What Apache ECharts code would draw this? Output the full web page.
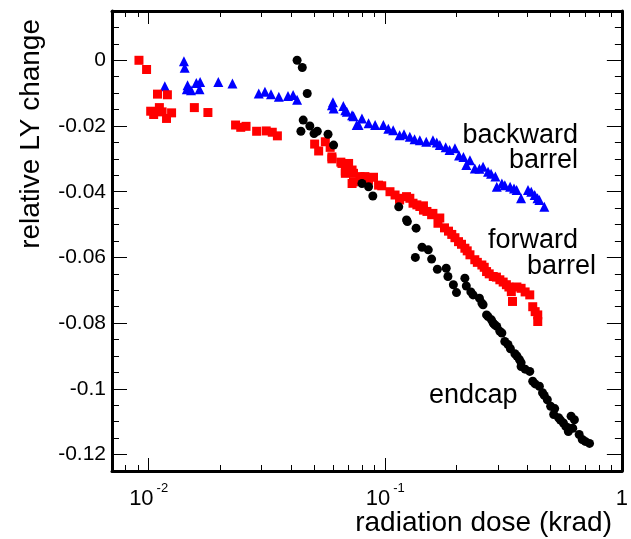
<!DOCTYPE html>
<html><head><meta charset="utf-8">
<script src="https://cdn.jsdelivr.net/npm/echarts@6/dist/echarts.min.js"></script>
<style>html,body{margin:0;padding:0;background:#fff}#c{width:631px;height:539px}</style>
</head><body><div id="c"></div>
<script>
// ---- data ----
const forwardDose = [0.0091,0.0098,0.0102,0.0105,0.0109,0.0111,0.0114,0.0119,0.0120,0.0125,0.0156,0.0178,0.0233,0.0245,0.0258,0.0286,0.0314,0.0333,0.0350,
  0.0503,0.0523,0.0558,0.0585,0.0595,0.0595,0.0649,0.0656,0.0678,0.0678,0.0700,0.0724,0.0724,0.0734,0.0734,0.0782,0.0820,0.0831,0.0850,0.0892,0.0937,0.0966,
  0.1047,0.1100,0.1150,0.1150,0.1230,0.1270,0.1310,0.1360,0.1400,0.1450,0.1450,0.1500,0.1570,0.1590,0.1670,0.1700,0.1780,0.1850,0.1910,0.1970,0.2040,0.2100,
  0.2170,0.2220,0.2280,0.2390,0.2450,0.2560,0.2620,0.2680,0.2750,0.2860,0.2950,0.3050,0.3150,0.3250,0.3330,0.3410,0.3450,0.3600,0.3750,0.3900,0.4080,0.4200,
  0.4300,0.4410,0.4410];
const forwardLY = [0,-0.0028,-0.0155,-0.0165,-0.0103,-0.0144,-0.0157,-0.0177,-0.0105,-0.0160,-0.0144,-0.0159,-0.0197,-0.0204,-0.0201,-0.0216,-0.0215,-0.0219,-0.0230,
  -0.0255,-0.0276,-0.0248,-0.0265,-0.0294,-0.0300,-0.0310,-0.0314,-0.0337,-0.0344,-0.0314,-0.0334,-0.0375,-0.0344,-0.0370,-0.0354,-0.0354,-0.0360,-0.0365,-0.0356,-0.0380,-0.0382,
  -0.0400,-0.0410,-0.0420,-0.0425,-0.0415,-0.0420,-0.0435,-0.0440,-0.0445,-0.0443,-0.0456,-0.0460,-0.0470,-0.0466,-0.0496,-0.0480,-0.0510,-0.0520,-0.0530,-0.0540,-0.0552,-0.0560,
  -0.0572,-0.0580,-0.0592,-0.0607,-0.0615,-0.0623,-0.0630,-0.0643,-0.0650,-0.0658,-0.0660,-0.0668,-0.0675,-0.0683,-0.0690,-0.0704,-0.0734,-0.0690,-0.0694,-0.0705,-0.0714,-0.0750,
  -0.0765,-0.0775,-0.0795];

const backwardDose = [0.0117,0.0141,0.0142,0.0145,0.0146,0.0151,0.0159,0.0164,0.0165,0.0197,0.0226,0.0292,0.0310,0.0329,0.0355,0.0388,0.0408,0.0424,
  0.0595,0.0601,0.0605,0.0665,0.0678,0.0688,0.0724,0.0734,0.0757,0.0771,0.0797,0.0850,0.0906,0.0982,0.1030,0.1080,0.1150,0.1200,0.1270,0.1330,0.1400,0.1490,
  0.1590,0.1650,0.1700,0.1800,0.1870,0.1970,0.2050,0.2140,0.2200,0.2280,0.2390,0.2500,0.2590,0.2720,0.2800,0.2920,0.2960,0.3110,0.3200,0.3370,0.3500,0.3590,
  0.3750,0.4010,0.4140,0.4280,0.4400,0.4480,0.4700];
const backwardLY = [-0.0079,-0.0003,-0.0023,-0.0088,-0.0076,-0.0091,-0.0069,-0.0088,-0.0066,-0.0066,-0.0071,-0.0101,-0.0096,-0.0103,-0.0111,-0.0109,-0.0106,-0.0120,
  -0.0137,-0.0128,-0.0147,-0.0139,-0.0152,-0.0157,-0.0167,-0.0170,-0.0197,-0.0197,-0.0177,-0.0192,-0.0197,-0.0197,-0.0208,-0.0213,-0.0228,-0.0225,-0.0233,-0.0240,-0.0243,-0.0248,
  -0.0243,-0.0250,-0.0258,-0.0265,-0.0273,-0.0268,-0.0290,-0.0294,-0.0319,-0.0304,-0.0329,-0.0330,-0.0324,-0.0339,-0.0345,-0.0354,-0.0385,-0.0375,-0.0380,-0.0385,-0.0390,-0.0395,
  -0.0420,-0.0395,-0.0400,-0.0410,-0.0420,-0.0425,-0.0446];

const endcapDose = [0.0424,0.0446,0.0468,0.0450,0.0440,0.0480,0.0500,0.0516,0.0573,0.0605,0.0797,0.0850,0.0886,0.1140,0.1230,0.1240,0.1350,0.1340,0.1430,0.1520,
  0.1570,0.1660,0.1810,0.1840,0.1940,0.2000,0.2170,0.2200,0.2300,0.2350,0.2500,0.2560,0.2590,0.2680,0.2720,0.2810,0.2860,0.2900,0.2960,0.3050,0.3110,0.3200,0.3300,
  0.3380,0.3530,0.3600,0.3690,0.3750,0.3750,0.3900,0.4080,0.4200,0.4300,0.4480,0.4620,0.4700,0.4840,0.5000,0.5150,0.5200,0.5400,0.5500,0.5660,0.5800,0.5940,0.5940,
  0.6100,0.6200,0.6300,0.6600,0.6800,0.7000,0.7300];
const endcapLY = [0,-0.0022,-0.0101,-0.0182,-0.0216,-0.0200,-0.0223,-0.0216,-0.0225,-0.0258,-0.0375,-0.0385,-0.0413,-0.0446,-0.0486,-0.0491,-0.0511,-0.0600,-0.0569,-0.0577,
  -0.0605,-0.0636,-0.0633,-0.0658,-0.0683,-0.0707,-0.0663,-0.0687,-0.0705,-0.0714,-0.0724,-0.0739,-0.0744,-0.0775,-0.0780,-0.0790,-0.0800,-0.0805,-0.0810,-0.0825,-0.0830,-0.0856,-0.0865,
  -0.0878,-0.0893,-0.0900,-0.0911,-0.0920,-0.0932,-0.0940,-0.0947,-0.0977,-0.0985,-0.0992,-0.1012,-0.1020,-0.1033,-0.1053,-0.1078,-0.1060,-0.1088,-0.1095,-0.1104,-0.1115,-0.1119,-0.1130,
  -0.1083,-0.1120,-0.1094,-0.1139,-0.1154,-0.1160,-0.1166];

const xMajorTicks = [0.01, 0.1, 1];
const xMinorTicks = [0.007,0.008,0.009,0.02,0.03,0.04,0.05,0.06,0.07,0.08,0.09,0.2,0.3,0.4,0.5,0.6,0.7,0.8,0.9];
const yMajorTicks = [-0.12,-0.1,-0.08,-0.06,-0.04,-0.02,0];
const X_MIN = 0.007, X_MAX = 1, Y_MIN = -0.125, Y_MAX = 0.015, Y_MINOR = 0.005;

const xTitle = 'radiation dose (krad)';
const yTitle = 'relative LY change';
const labels = [
  {text:'backward', x:578, y:136, align:'right'},
  {text:'barrel',   x:578, y:161, align:'right'},
  {text:'forward',  x:488, y:241, align:'left'},
  {text:'barrel',   x:527, y:267, align:'left'},
  {text:'endcap',   x:429, y:396, align:'left'}
];

// ---- chart ----
const FONT = '"Liberation Sans", Arial, Helvetica, sans-serif';
const zip = (a, b) => a.map((v, i) => [v, b[i]]);
const frame = {show:true, onZero:false, lineStyle:{color:'#000', width:3}};
const noLine = {show:false, onZero:false};

const chart = echarts.init(document.getElementById('c'), null, {renderer:'canvas'});
chart.setOption({
  animation:false,
  backgroundColor:'#fff',
  grid:{left:112, right:9, top:11, bottom:68, containLabel:false},
  xAxis:[
    {type:'log', logBase:10, min:X_MIN, max:X_MAX, position:'bottom', axisLine:frame,
     axisTick:{show:true, inside:true, length:13, lineStyle:{color:'#000', width:1}},
     splitLine:{show:false}, minorTick:{show:false},
     axisLabel:{show:true, margin:11, showMinLabel:false, color:'#000',
       formatter:function(v){
         const l = Math.log10(v), e = Math.round(l);
         if (Math.abs(l - e) > 1e-6) return '';
         if (e === 0) return '{c|1}';
         return '{b|10}{s|' + e + '}';
       },
       rich:{b:{fontSize:22, fontFamily:FONT, color:'#000'},
             c:{fontSize:22, fontFamily:FONT, color:'#000', padding:[6,0,0,0]},
             s:{fontSize:13, fontFamily:FONT, color:'#000', padding:[0,0,21,3]}}}},
    {type:'log', logBase:10, min:X_MIN, max:X_MAX, position:'top', axisLine:frame,
     axisTick:{show:true, inside:true, length:13, lineStyle:{color:'#000', width:1}},
     axisLabel:{show:false}, splitLine:{show:false}},
    {type:'value', min:Math.log10(X_MIN), max:Math.log10(X_MAX), position:'bottom', axisLine:noLine,
     axisTick:{show:true, inside:true, length:6, customValues:xMinorTicks.map(Math.log10), lineStyle:{color:'#000', width:1}},
     axisLabel:{show:false}, splitLine:{show:false}},
    {type:'value', min:Math.log10(X_MIN), max:Math.log10(X_MAX), position:'top', axisLine:noLine,
     axisTick:{show:true, inside:true, length:6, customValues:xMinorTicks.map(Math.log10), lineStyle:{color:'#000', width:1}},
     axisLabel:{show:false}, splitLine:{show:false}}
  ],
  yAxis:[
    {type:'value', min:Y_MIN, max:Y_MAX, position:'left', axisLine:frame,
     axisTick:{show:true, inside:true, length:15, customValues:yMajorTicks, lineStyle:{color:'#000', width:1}},
     axisLabel:{show:true, customValues:yMajorTicks, margin:6, color:'#000', fontSize:21, fontFamily:FONT,
       formatter:function(v){ return Math.abs(v) < 1e-9 ? '0' : String(parseFloat(v.toFixed(3))); }},
     splitLine:{show:false}},
    {type:'value', min:Y_MIN, max:Y_MAX, interval:Y_MINOR, position:'left', axisLine:noLine,
     axisTick:{show:true, inside:true, length:7, lineStyle:{color:'#000', width:1}},
     axisLabel:{show:false}, splitLine:{show:false}},
    {type:'value', min:Y_MIN, max:Y_MAX, position:'right', axisLine:frame,
     axisTick:{show:true, inside:true, length:15, customValues:yMajorTicks, lineStyle:{color:'#000', width:1}},
     axisLabel:{show:false}, splitLine:{show:false}},
    {type:'value', min:Y_MIN, max:Y_MAX, interval:Y_MINOR, position:'right', axisLine:noLine,
     axisTick:{show:true, inside:true, length:7, lineStyle:{color:'#000', width:1}},
     axisLabel:{show:false}, splitLine:{show:false}}
  ],
  series:[
    {name:'backward barrel', type:'scatter', xAxisIndex:0, yAxisIndex:0, symbol:'triangle', symbolSize:10,
     itemStyle:{color:'#0000ff', opacity:1}, data:zip(backwardDose, backwardLY)},
    {name:'forward barrel', type:'scatter', xAxisIndex:0, yAxisIndex:0, symbol:'rect', symbolSize:9,
     itemStyle:{color:'#ff0000', opacity:1}, data:zip(forwardDose, forwardLY)},
    {name:'endcap', type:'scatter', xAxisIndex:0, yAxisIndex:0, symbol:'circle', symbolSize:9,
     itemStyle:{color:'#000000', opacity:1}, data:zip(endcapDose, endcapLY)}
  ],
  graphic:[
    {type:'text', x:612, y:523, style:{text:xTitle, font:'28px ' + FONT, fill:'#000', textAlign:'right', textVerticalAlign:'middle'}},
    {type:'text', x:31, y:19, rotation:Math.PI/2, style:{text:yTitle, font:'28px ' + FONT, fill:'#000', textAlign:'right', textVerticalAlign:'middle'}}
  ].concat(labels.map(l => ({type:'text', x:l.x, y:l.y,
    style:{text:l.text, font:'27px ' + FONT, fill:'#000', textAlign:l.align, textVerticalAlign:'middle'}})))
});
</script>
</body></html>
